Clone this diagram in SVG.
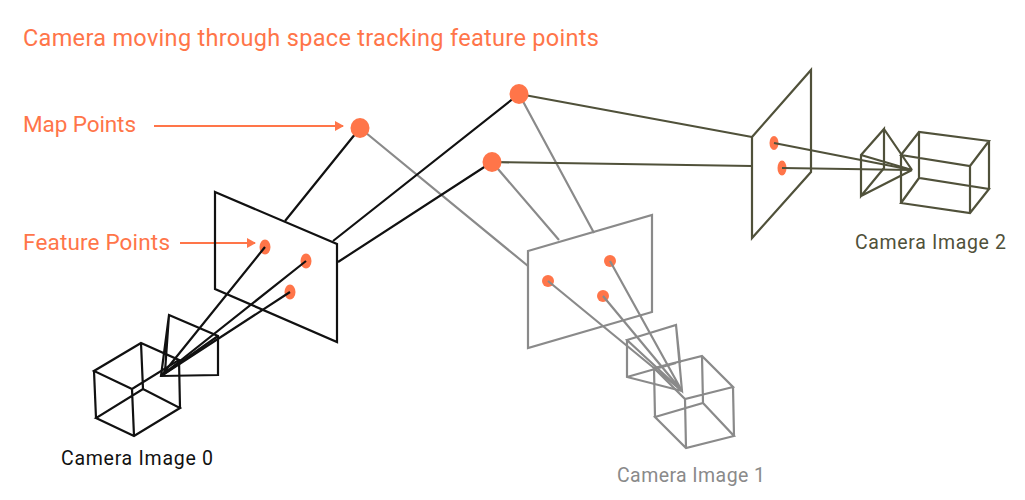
<svg xmlns="http://www.w3.org/2000/svg" width="1025" height="500" viewBox="0 0 1025 500">
<style>
text{font-family:Roboto,"Liberation Sans",sans-serif}
.o{fill:#ff7549}
.title{font-size:23.5px;fill:#ff7549}
.lab{font-size:22.5px;fill:#ff7549}
.cam{font-size:19.5px}
.k,.g,.v{fill:none;stroke-linejoin:miter}
.k{stroke:#111;stroke-width:2.2}
.g{stroke:#8a8a8a;stroke-width:2.2}
.v{stroke:#50513a;stroke-width:2.2}
.a{stroke:#ff7549;stroke-width:2;fill:none}
</style>
<defs><marker id="ah" markerUnits="userSpaceOnUse" markerWidth="9" markerHeight="10" refX="8" refY="5" orient="auto"><path d="M0 0L9 5L0 10Z" fill="#ff7549"/></marker></defs>
<rect width="1025" height="500" fill="#fff"/>
<text class="title" x="23" y="46" textLength="576">Camera moving through space tracking feature points</text>
<g id="connectors">
<path class="g" d="M360 128L528 266M519 94L594 233M492 162L559 240"/>
<path class="v" d="M519 94L752 137M492 162L752 166"/>
<path class="k" d="M360 128L285 221M519 94L333 241M492 162L338 262"/>
<path class="a" marker-end="url(#ah)" d="M154 126L343 126"/>
<path class="a" marker-end="url(#ah)" d="M180 243L255 243"/>
</g>
<g id="map-points">
<ellipse class="o" cx="360" cy="128" rx="9.5" ry="10"/>
<ellipse class="o" cx="519" cy="94" rx="9.5" ry="10"/>
<ellipse class="o" cx="492" cy="162" rx="9.5" ry="10"/>
</g>
<g id="label-map-points"><text class="lab" x="23" y="132" textLength="113">Map Points</text></g>
<g id="label-feature-points"><text class="lab" x="23" y="250" textLength="147">Feature Points</text></g>
<g id="camera-0">
<path class="k" d="M215 192L337 244L337 342L215 289Z"/>
<ellipse class="o" cx="265" cy="247" rx="5.5" ry="7.5"/>
<ellipse class="o" cx="306" cy="261" rx="5.5" ry="7.5"/>
<ellipse class="o" cx="290" cy="292" rx="5.5" ry="7.5"/>
<path class="k" d="M161 376L265 247M161 376L306 261M161 376L290 292"/>
<path class="k" d="M169 315L218 336L218 375L161 376ZM161 376L218 336M169 315L165 372"/>
<path class="k" d="M141 343L94 371L132 389L179 360ZM96 418L134 436L180 408L143 389ZM94 371L96 418M132 389L134 436M179 360L180 408M141 343L143 389"/>
<text class="cam" x="61" y="465" fill="#111" textLength="152">Camera Image 0</text>
</g>
<g id="camera-1">
<path class="g" d="M528 251L652 215L652 312L528 348Z"/>
<circle class="o" cx="548" cy="281" r="6"/>
<circle class="o" cx="610" cy="261" r="6"/>
<circle class="o" cx="603" cy="296" r="6"/>
<path class="g" d="M682 391L548 281M682 391L610 261M682 391L603 296"/>
<path class="g" d="M627 340L676 325L682 391ZM627 340L627 377L682 391M627 377L676 363M676 325L680 363"/>
<path class="g" d="M654 368L702 356L733 387L685 399ZM655 417L703 403L734 436L686 448ZM654 368L655 417M702 356L703 403M733 387L734 436M685 399L686 448"/>
<text class="cam" x="617" y="482" fill="#8a8a8a" textLength="148">Camera Image 1</text>
</g>
<g id="camera-2">
<path class="v" d="M752 137L811 70L811 172L752 238Z"/>
<ellipse class="o" cx="774" cy="143" rx="4.5" ry="7"/>
<ellipse class="o" cx="782" cy="168" rx="4.5" ry="7.5"/>
<path class="v" d="M912 170L774 143M912 170L782 168"/>
<path class="v" d="M861 155L884 129L884 168L861 196ZM861 155L912 170M884 129L912 170M861 196L912 170"/>
<path class="v" d="M901 155L919 132L989 141L970 166ZM901 203L919 178L989 189L970 213ZM901 155L901 203M919 132L919 178M989 141L989 189M970 166L970 213"/>
<text class="cam" x="855" y="249" fill="#50513a" textLength="151">Camera Image 2</text>
</g>
</svg>
